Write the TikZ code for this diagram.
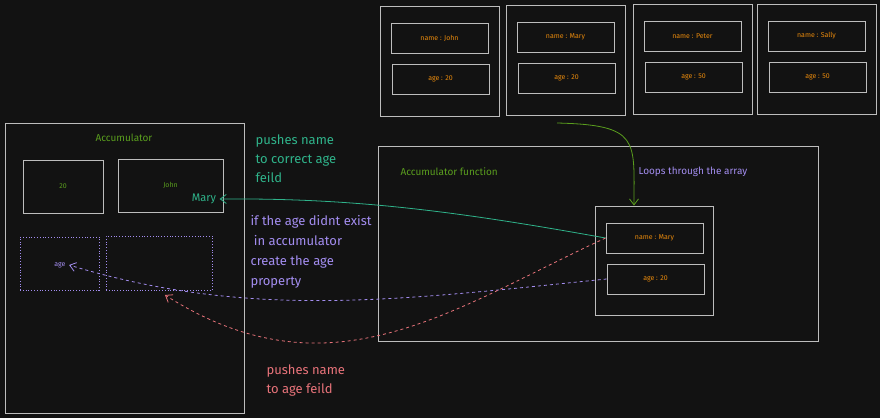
\documentclass[tikz,border=0pt]{standalone}
\usepackage{fontspec}
\setmainfont{Fira Sans}
\usetikzlibrary{arrows.meta}
\definecolor{bg}{HTML}{121212}
\definecolor{edge}{HTML}{BDBDBD}
\definecolor{org}{HTML}{E8890C}
\definecolor{grn}{HTML}{5A9E1E}
\definecolor{teal}{HTML}{2FB38A}
\definecolor{purp}{HTML}{A38DF0}
\definecolor{pink}{HTML}{E8737A}
\tikzset{
  box/.style={draw=edge, line width=0.9pt, inner sep=0pt},
  dbox/.style={draw=purp, dash pattern=on 0.8pt off 2pt, line width=0.7pt, inner sep=0pt},
  small/.style={text=org, font=\fontsize{7}{8}\selectfont},
  arr/.style={-{Straight Barb[length=6pt,width=9pt]}, line width=0.8pt},
}
\begin{document}
\begin{tikzpicture}[x=1pt,y=-1pt]
\fill[bg] (0,0) rectangle (880,418);
\useasboundingbox (0,0) rectangle (880,418);
% array
\foreach \i/\xa/\xb/\ya/\yb/\nm/\ag in {1/380/499/6/116/John/20, 2/506/625/5/115/Mary/20, 3/633/752/4/114/Peter/50, 4/757/876/4/114/Sally/50}{
  \node[box, minimum width={\xb-\xa}, minimum height={\yb-\ya}] (arr\i) at ({(\xa+\xb)/2},{(\ya+\yb)/2}) {};
  \node[box, small, minimum width=97, minimum height=30] (n\i) at ({(\xa+\xb)/2},{\ya+32}) {name : \nm};
  \node[box, small, minimum width=97, minimum height=30] (a\i) at ({(\xa+\xb)/2+1},{\ya+73}) {age : \ag};
}
% accumulator function
\node[box, minimum width=440, minimum height=195] (fn) at (598,243.5) {};
\node[text=grn, font=\fontsize{10}{12}\selectfont, anchor=west] (fnl) at (397,172) {Accumulator function};
\node[text=purp, font=\fontsize{10}{12}\selectfont, anchor=west] (loop) at (635,172) {Loops through the array};
\node[box, minimum width=118, minimum height=109] (cur) at (654,260.5) {};
\node[box, small, minimum width=97, minimum height=30] (cn) at (654.5,238) {name : Mary};
\node[box, small, minimum width=97, minimum height=30] (ca) at (655.5,279) {age : 20};
% accumulator
\node[box, minimum width=239, minimum height=290] (acc) at (124.5,268) {};
\node[text=grn, font=\fontsize{10}{12}\selectfont] (accl) at (124,138) {Accumulator};
\node[box, text=grn, font=\fontsize{7}{8}\selectfont, minimum width=80, minimum height=53] (k20) at (63,186.5) {20};
\node[box, text=grn, font=\fontsize{7}{8}\selectfont, minimum width=105, minimum height=53] (kjohn) at (170.5,185.5) {John};
\node[text=teal, font=\fontsize{11}{12}\selectfont] (mary) at (204,199) {Mary};
\node[dbox, minimum width=79, minimum height=53] (dage) at (59.5,263.5) {};
\node[dbox, minimum width=106, minimum height=54] (dval) at (159,263) {};
\node[text=purp, font=\fontsize{7}{8}\selectfont] (agel) at (60,265) {age};
% texts
\node[text=teal, font=\fontsize{13}{19}\selectfont, align=left, anchor=north west] (t1) at (252,131) {pushes name\\to correct age\\feild};
\node[text=purp, font=\fontsize{13}{20}\selectfont, align=left, anchor=north west] (t2) at (247,212) {if the age didnt exist\\\ in accumulator\\create the age\\property};
\node[text=pink, font=\fontsize{13}{19}\selectfont, align=left, anchor=north west] (t3) at (263,361) {pushes name\\to age feild};
% connectors
\coordinate (gs) at (557,123);
\draw[arr, grn] (gs) .. controls (640,125) and (634,140) .. (cur.north -| 634,0);
\draw[arr, teal] (cn.west) .. controls (450,210) and (350,198) .. (mary.east);
\draw[arr, purp, dashed] (ca.west) .. controls (400,300) and (250,320) .. (agel.east);
\draw[arr, pink, dashed] (cn.west) .. controls (450,310) and (330,400) .. (165,295);
\end{tikzpicture}
\end{document}
